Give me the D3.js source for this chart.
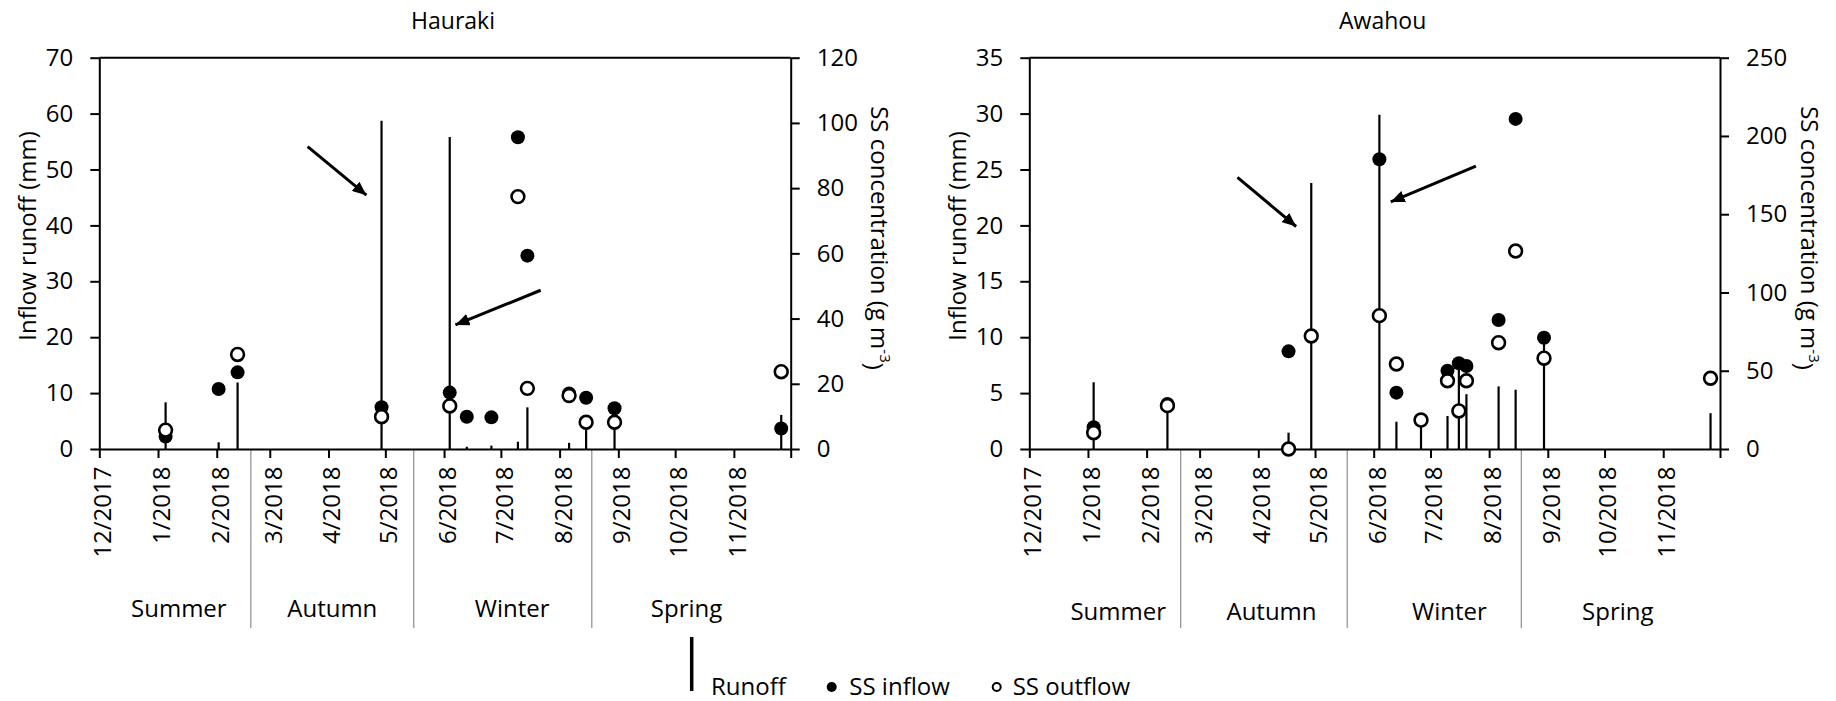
<!DOCTYPE html>
<html>
<head>
<meta charset="utf-8">
<script src="https://cdn.jsdelivr.net/npm/d3@7"></script>
<style>
  body { margin: 0; background: #fff; }
  text { font-family: "Open Sans", sans-serif; fill: #000; }
</style>
</head>
<body>
<svg id="chart" width="1836" height="701"></svg>
<script>
// ---------- data ----------
var monthTicks = ["2017-12-01","2018-01-01","2018-02-01","2018-03-01","2018-04-01","2018-05-01","2018-06-01",
                  "2018-07-01","2018-08-01","2018-09-01","2018-10-01","2018-11-01","2018-12-01"];
var monthLabels = ["12/2017","1/2018","2/2018","3/2018","4/2018","5/2018","6/2018",
                   "7/2018","8/2018","9/2018","10/2018","11/2018",""];
var seasonNames = ["Summer","Autumn","Winter","Spring"];

// Hauraki
var hauLeftTicks = [0,10,20,30,40,50,60,70];
var hauRightTicks = [0,20,40,60,80,100,120];
var hauRunoffDates = ["2018-01-05","2018-02-02","2018-02-12","2018-04-29","2018-06-04","2018-06-13","2018-06-26",
                      "2018-07-10","2018-07-15","2018-08-06","2018-08-15","2018-08-30","2018-11-26"];
var hauRunoff = [8.35,1.2,11.9,58.7,55.8,0.4,0.6,1.3,7.45,1.1,4.5,4.5,6.1];
var hauSsDates = ["2018-01-05","2018-02-02","2018-02-12","2018-04-29","2018-06-04","2018-06-13","2018-06-26",
                  "2018-07-10","2018-07-15","2018-08-06","2018-08-15","2018-08-30","2018-11-26"];
var hauSsIn  = [3.8,18.4,23.5,12.8,17.3,9.9,9.7,95.6,59.3,17.0,15.7,12.5,6.3];
var hauSsOut = [5.8,null,29.0,9.9,13.2,null,null,77.4,18.6,16.4,8.2,8.2,23.7];
var hauSeasonBreaks = ["2018-02-19","2018-05-16","2018-08-18"];
var hauSeasonLabelDates = ["2018-01-12","2018-04-03","2018-07-07","2018-10-07"];
// arrows: [date, runoff mm] start -> tip
var hauArrows = [[["2018-03-21",54.1],["2018-04-21",45.4]],
                 [["2018-07-22",28.4],["2018-06-07",22.2]]];

// Awahou
var awaLeftTicks = [0,5,10,15,20,25,30,35];
var awaRightTicks = [0,50,100,150,200,250];
var awaRunoffDates = ["2018-01-04","2018-02-12","2018-04-17","2018-04-29","2018-06-04","2018-06-13","2018-06-26",
                      "2018-07-10","2018-07-16","2018-07-20","2018-08-06","2018-08-15","2018-08-30","2018-11-26"];
var awaRunoff = [5.97,3.6,1.46,23.8,29.9,2.44,2.6,2.95,7.96,4.9,5.6,5.3,9.8,3.2];
var awaSsDates = ["2018-01-04","2018-02-12","2018-04-17","2018-04-29","2018-06-04","2018-06-13","2018-06-26",
                  "2018-07-10","2018-07-16","2018-07-20","2018-08-06","2018-08-15","2018-08-30","2018-11-26"];
var awaSsIn  = [13.9,28.8,62.4,null,185.1,36.0,null,50.0,54.8,53.0,82.4,210.9,71.1,null];
var awaSsOut = [10.4,27.7,0,72.2,85.2,54.3,18.5,43.6,24.3,43.6,67.9,126.5,58.0,45.2];
var awaSeasonBreaks = ["2018-02-19","2018-05-18","2018-08-18"];
var awaSeasonLabelDates = ["2018-01-17","2018-04-08","2018-07-11","2018-10-08"];
var awaArrows = [[["2018-03-21",24.3],["2018-04-21",19.9]],
                 [["2018-07-25",25.3],["2018-06-10",22.1]]];

// ---------- layout ----------
var parse = d3.timeParse("%Y-%m-%d");
var plotTop = 57.7, plotBottom = 449;
var svg = d3.select("#chart");

svg.append("defs").append("marker")
    .attr("id", "head")
    .attr("markerUnits", "userSpaceOnUse")
    .attr("viewBox", "0 0 14 12")
    .attr("refX", 14).attr("refY", 6)
    .attr("markerWidth", 14).attr("markerHeight", 12)
    .attr("orient", "auto")
  .append("path")
    .attr("d", "M0,0 L14,6 L0,12 Z")
    .attr("fill", "#000");

function drawPanel(o) {
  var x = d3.scaleTime()
      .domain([parse("2017-12-01"), parse("2018-12-01")])
      .range([o.x0, o.x1]);
  var yL = d3.scaleLinear().domain([0, d3.max(o.leftTicks)]).range([plotBottom, plotTop]);
  var yR = d3.scaleLinear().domain([0, d3.max(o.rightTicks)]).range([plotBottom, plotTop]);
  var g = svg.append("g");

  //title
  g.append("text")
      .attr("x", (o.x0 + o.x1) / 2 + 8).attr("y", 29)
      .attr("text-anchor", "middle")
      .style("font-size", "23px")
      .text(o.title);

  //top border of the plot area
  g.append("line")
      .attr("x1", o.x0).attr("x2", o.x1)
      .attr("y1", plotTop).attr("y2", plotTop)
      .attr("stroke", "#000").attr("stroke-width", 2);

  //season dividers and labels
  g.selectAll(".div").data(o.seasonBreaks)
    .enter().append("line")
      .attr("x1", function(d) { return x(parse(d)); })
      .attr("x2", function(d) { return x(parse(d)); })
      .attr("y1", plotBottom).attr("y2", 628)
      .attr("stroke", "#8c8c8c").attr("stroke-width", 1.2);
  g.selectAll(".season").data(seasonNames)
    .enter().append("text")
      .attr("x", function(d, i) { return x(parse(o.seasonLabelDates[i])); })
      .attr("y", o.seasonY)
      .attr("text-anchor", "middle")
      .style("font-size", "24px")
      .text(function(d) { return d; });

  //axes
  var leftAxis = d3.axisLeft(yL).tickValues(o.leftTicks).tickSize(9).tickSizeOuter(0).tickPadding(17);
  var rightAxis = d3.axisRight(yR).tickValues(o.rightTicks).tickSize(9).tickSizeOuter(0).tickPadding(17);
  var xAxis = d3.axisBottom(x).tickValues(monthTicks.map(parse)).tickSize(9).tickSizeOuter(0)
      .tickFormat(function(d, i) { return monthLabels[i]; });

  var gl = g.append("g").attr("transform", "translate(" + o.x0 + ",0)").call(leftAxis);
  var gr = g.append("g").attr("transform", "translate(" + o.x1 + ",0)").call(rightAxis);
  var gx = g.append("g").attr("transform", "translate(0," + plotBottom + ")").call(xAxis);

  [gl, gr, gx].forEach(function(a) {
    a.select(".domain").attr("stroke", "#000").attr("stroke-width", 2);
    a.selectAll(".tick line").attr("stroke", "#000").attr("stroke-width", 2);
    a.selectAll(".tick text").style("font-size", "24px").attr("fill", "#000")
        .style("font-family", '"Open Sans", sans-serif');
  });
  gx.selectAll(".tick text")
      .attr("transform", "rotate(-90)")
      .attr("text-anchor", "end")
      .attr("x", -17.5).attr("y", 3).attr("dy", "0.35em");

  //axis titles
  g.append("text")
      .attr("transform", "translate(" + (o.x0 - 71.3) + ",236) rotate(-90)")
      .attr("text-anchor", "middle")
      .attr("dy", "0.35em")
      .style("font-size", "24px")
      .text("Inflow runoff (mm)");
  var rt = g.append("text")
      .attr("transform", "translate(" + (o.x1 + 89) + ",238) rotate(90)")
      .attr("text-anchor", "middle")
      .attr("dy", "0.35em")
      .style("font-size", "24px");
  rt.append("tspan").text("SS concentration (g m");
  rt.append("tspan").attr("dy", "-0.55em").style("font-size", "15px").text("-3");
  rt.append("tspan").attr("dy", "0.55em").text(")");

  //runoff stems
  g.selectAll(".stem").data(o.runoff)
    .enter().append("line")
      .attr("x1", function(d, i) { return x(parse(o.runoffDates[i])); })
      .attr("x2", function(d, i) { return x(parse(o.runoffDates[i])); })
      .attr("y1", yL(0))
      .attr("y2", function(d) { return yL(d); })
      .attr("stroke", "#000").attr("stroke-width", 2.2);

  //SS points
  g.selectAll(".ssin").data(o.ssIn.map(function(v, i) { return {v: v, date: o.ssDates[i]}; })
        .filter(function(d) { return d.v !== null; }))
    .enter().append("circle")
      .attr("cx", function(d) { return x(parse(d.date)); })
      .attr("cy", function(d) { return yR(d.v); })
      .attr("r", 7)
      .attr("fill", "#000");
  g.selectAll(".ssout").data(o.ssOut.map(function(v, i) { return {v: v, date: o.ssDates[i]}; })
        .filter(function(d) { return d.v !== null; }))
    .enter().append("circle")
      .attr("cx", function(d) { return x(parse(d.date)); })
      .attr("cy", function(d) { return yR(d.v); })
      .attr("r", 6.4)
      .attr("fill", "#fff")
      .attr("stroke", "#000").attr("stroke-width", 2.6);

  //arrows
  g.selectAll(".arrow").data(o.arrows)
    .enter().append("line")
      .attr("x1", function(d) { return x(parse(d[0][0])); })
      .attr("y1", function(d) { return yL(d[0][1]); })
      .attr("x2", function(d) { return x(parse(d[1][0])); })
      .attr("y2", function(d) { return yL(d[1][1]); })
      .attr("stroke", "#000").attr("stroke-width", 3)
      .attr("marker-end", "url(#head)");
}

drawPanel({
  title: "Hauraki", x0: 99.3, x1: 790.7, seasonY: 617,
  leftTicks: hauLeftTicks, rightTicks: hauRightTicks,
  runoffDates: hauRunoffDates, runoff: hauRunoff,
  ssDates: hauSsDates, ssIn: hauSsIn, ssOut: hauSsOut,
  seasonBreaks: hauSeasonBreaks, seasonLabelDates: hauSeasonLabelDates,
  arrows: hauArrows
});
drawPanel({
  title: "Awahou", x0: 1029.3, x1: 1720, seasonY: 620,
  leftTicks: awaLeftTicks, rightTicks: awaRightTicks,
  runoffDates: awaRunoffDates, runoff: awaRunoff,
  ssDates: awaSsDates, ssIn: awaSsIn, ssOut: awaSsOut,
  seasonBreaks: awaSeasonBreaks, seasonLabelDates: awaSeasonLabelDates,
  arrows: awaArrows
});

//legend
var legend = svg.append("g");
legend.append("line")
    .attr("x1", 691.7).attr("x2", 691.7).attr("y1", 637).attr("y2", 691)
    .attr("stroke", "#000").attr("stroke-width", 3.5);
legend.append("text").attr("x", 711).attr("y", 695).style("font-size", "24px").text("Runoff");
legend.append("circle").attr("cx", 831.7).attr("cy", 687).attr("r", 5).attr("fill", "#000");
legend.append("text").attr("x", 849.3).attr("y", 695).style("font-size", "24px").text("SS inflow");
legend.append("circle").attr("cx", 996.7).attr("cy", 687).attr("r", 4)
    .attr("fill", "#fff").attr("stroke", "#000").attr("stroke-width", 2);
legend.append("text").attr("x", 1012.7).attr("y", 695).style("font-size", "24px").text("SS outflow");
</script>
</body>
</html>
